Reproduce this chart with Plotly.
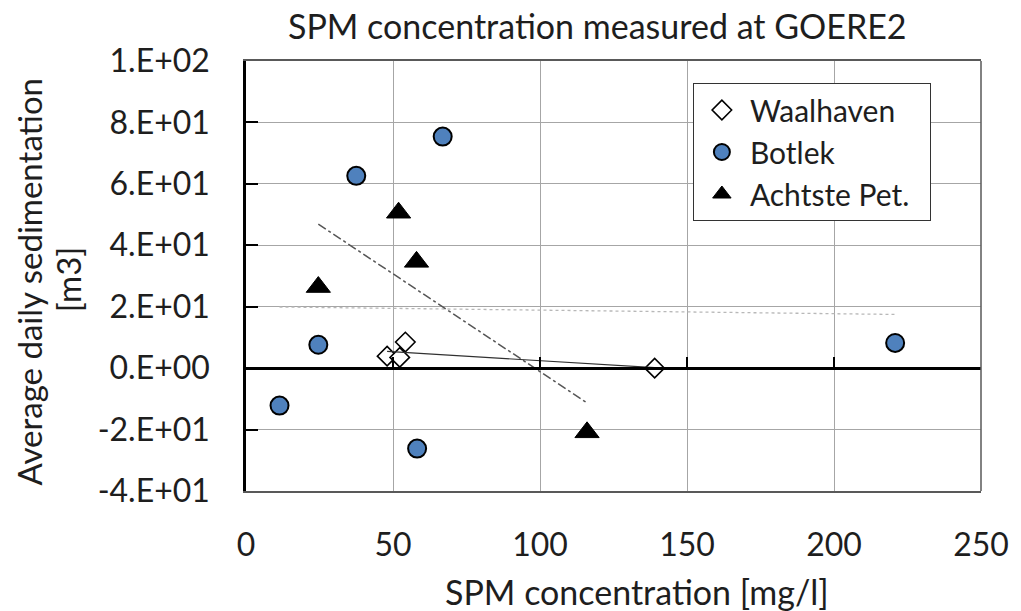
import numpy as np
import plotly.graph_objects as go

# ---- data ----
waal_x = [48.0, 52.3, 54.2, 139.0]
waal_y = [3.9, 3.5, 8.5, 0.0]

botlek_x = [11.4, 24.6, 37.5, 58.2, 66.9, 220.8]
botlek_y = [-12.2, 7.6, 62.6, -26.2, 75.4, 8.2]

achtste_x = [24.6, 51.9, 58.0, 116.0]
achtste_y = [26.4, 50.6, 34.6, -20.9]

y_tickvals = [-40, -20, 0, 20, 40, 60, 80, 100]
y_ticktext = ["-4.E+01", "-2.E+01", "0.E+00", "2.E+01", "4.E+01", "6.E+01", "8.E+01", "1.E+02"]
x_tickvals = [0, 50, 100, 150, 200, 250]

FONT = "Lato"
TXT = "#1e1e1e"
GRID = "#a6a6a6"
TICK_SIZE = 32
TEXT_SIZE = 34


def trend(xs, ys):
    k, b = np.polyfit(xs, ys, 1)
    xe = np.array([min(xs), max(xs)])
    return xe, k * xe + b


fig = go.Figure()

# trendlines (not in legend)
tx, ty = trend(waal_x, waal_y)
fig.add_trace(go.Scatter(x=tx, y=ty, mode="lines", showlegend=False, hoverinfo="skip",
                         xaxis="x2", line=dict(color="#303030", width=1.2)))
tx, ty = trend(botlek_x, botlek_y)
fig.add_trace(go.Scatter(x=tx, y=ty, mode="lines", showlegend=False, hoverinfo="skip",
                         line=dict(color="#b8b8b8", width=1.3, dash="dot")))
tx, ty = trend(achtste_x, achtste_y)
fig.add_trace(go.Scatter(x=tx, y=ty, mode="lines", showlegend=False, hoverinfo="skip",
                         line=dict(color="#555555", width=1.5, dash="dashdot")))

fig.add_trace(go.Scatter(x=waal_x, y=waal_y, mode="markers", name="Waalhaven",
                         marker=dict(symbol="diamond", size=15, color="white",
                                     line=dict(color="black", width=1.6))))
fig.add_trace(go.Scatter(x=botlek_x, y=botlek_y, mode="markers", name="Botlek",
                         marker=dict(symbol="circle", size=18, color="#4f81bd",
                                     line=dict(color="black", width=2))))
fig.add_trace(go.Scatter(x=achtste_x, y=achtste_y, mode="markers",
                         name="Achtste Pet.\u00a0\u00a0",
                         marker=dict(symbol="triangle-up", size=21, color="black",
                                     line=dict(color="black", width=1))))

fig.update_layout(
    width=1021, height=611,
    margin=dict(l=246, r=35, t=61, b=120),
    paper_bgcolor="white", plot_bgcolor="white",
    font=dict(family=FONT, size=TICK_SIZE, color=TXT),
    title=dict(text="SPM concentration measured at GOERE2", x=0.585, xanchor="center",
               xref="container", yref="container",
               y=1 - 27 / 611, yanchor="middle", font=dict(size=TEXT_SIZE, color=TXT)),
    showlegend=True,
    legend=dict(x=0.608, y=(491 - 83) / 430, xanchor="left", yanchor="top",
                bgcolor="white", bordercolor="#333333", borderwidth=1,
                font=dict(size=30, color=TXT), itemwidth=46, tracegroupgap=0),
    xaxis=dict(range=[0, 250], tickvals=x_tickvals, showgrid=True, gridcolor=GRID, gridwidth=1,
               showline=True, linecolor="#595959", linewidth=1.5, mirror=True,
               ticks="", zeroline=False, ticklabelstandoff=25,
               tickfont=dict(size=TICK_SIZE)),
    xaxis2=dict(range=[0, 250], overlaying="x", anchor="free", position=40 / 140,
                tickvals=x_tickvals, showticklabels=False, showgrid=False, zeroline=False,
                showline=True, linecolor="black", linewidth=2.5,
                ticks="inside", ticklen=10, tickwidth=2, tickcolor="black"),
    yaxis=dict(range=[-40, 100], tickvals=y_tickvals, ticktext=y_ticktext,
               showgrid=True, gridcolor=GRID, gridwidth=1, zeroline=False,
               showline=True, linecolor="black", linewidth=2.5, mirror=False,
               ticks="inside", ticklen=12, tickwidth=2, tickcolor="black",
               ticklabelstandoff=27, tickfont=dict(size=TICK_SIZE)),
    shapes=[dict(type="line", xref="x domain", yref="y domain", x0=1, x1=1, y0=0, y1=1,
                 line=dict(color="#595959", width=1.5))],
    annotations=[
        dict(text="SPM concentration [mg/l]", xref="paper", yref="paper",
             x=(640 - 246) / 740, y=(491 - 591) / 430, xanchor="center", yanchor="middle",
             showarrow=False, font=dict(size=TEXT_SIZE, color=TXT)),
        dict(text="Average daily sedimentation", xref="paper", yref="paper",
             x=(28 - 246) / 740, y=(491 - 281) / 430, xanchor="center", yanchor="middle",
             textangle=-90, showarrow=False, font=dict(size=33, color=TXT)),
        dict(text="[m3]", xref="paper", yref="paper",
             x=(67 - 246) / 740, y=(491 - 279) / 430, xanchor="center", yanchor="middle",
             textangle=-90, showarrow=False, font=dict(size=33, color=TXT)),
    ],
)

fig.write_html("out.html")
